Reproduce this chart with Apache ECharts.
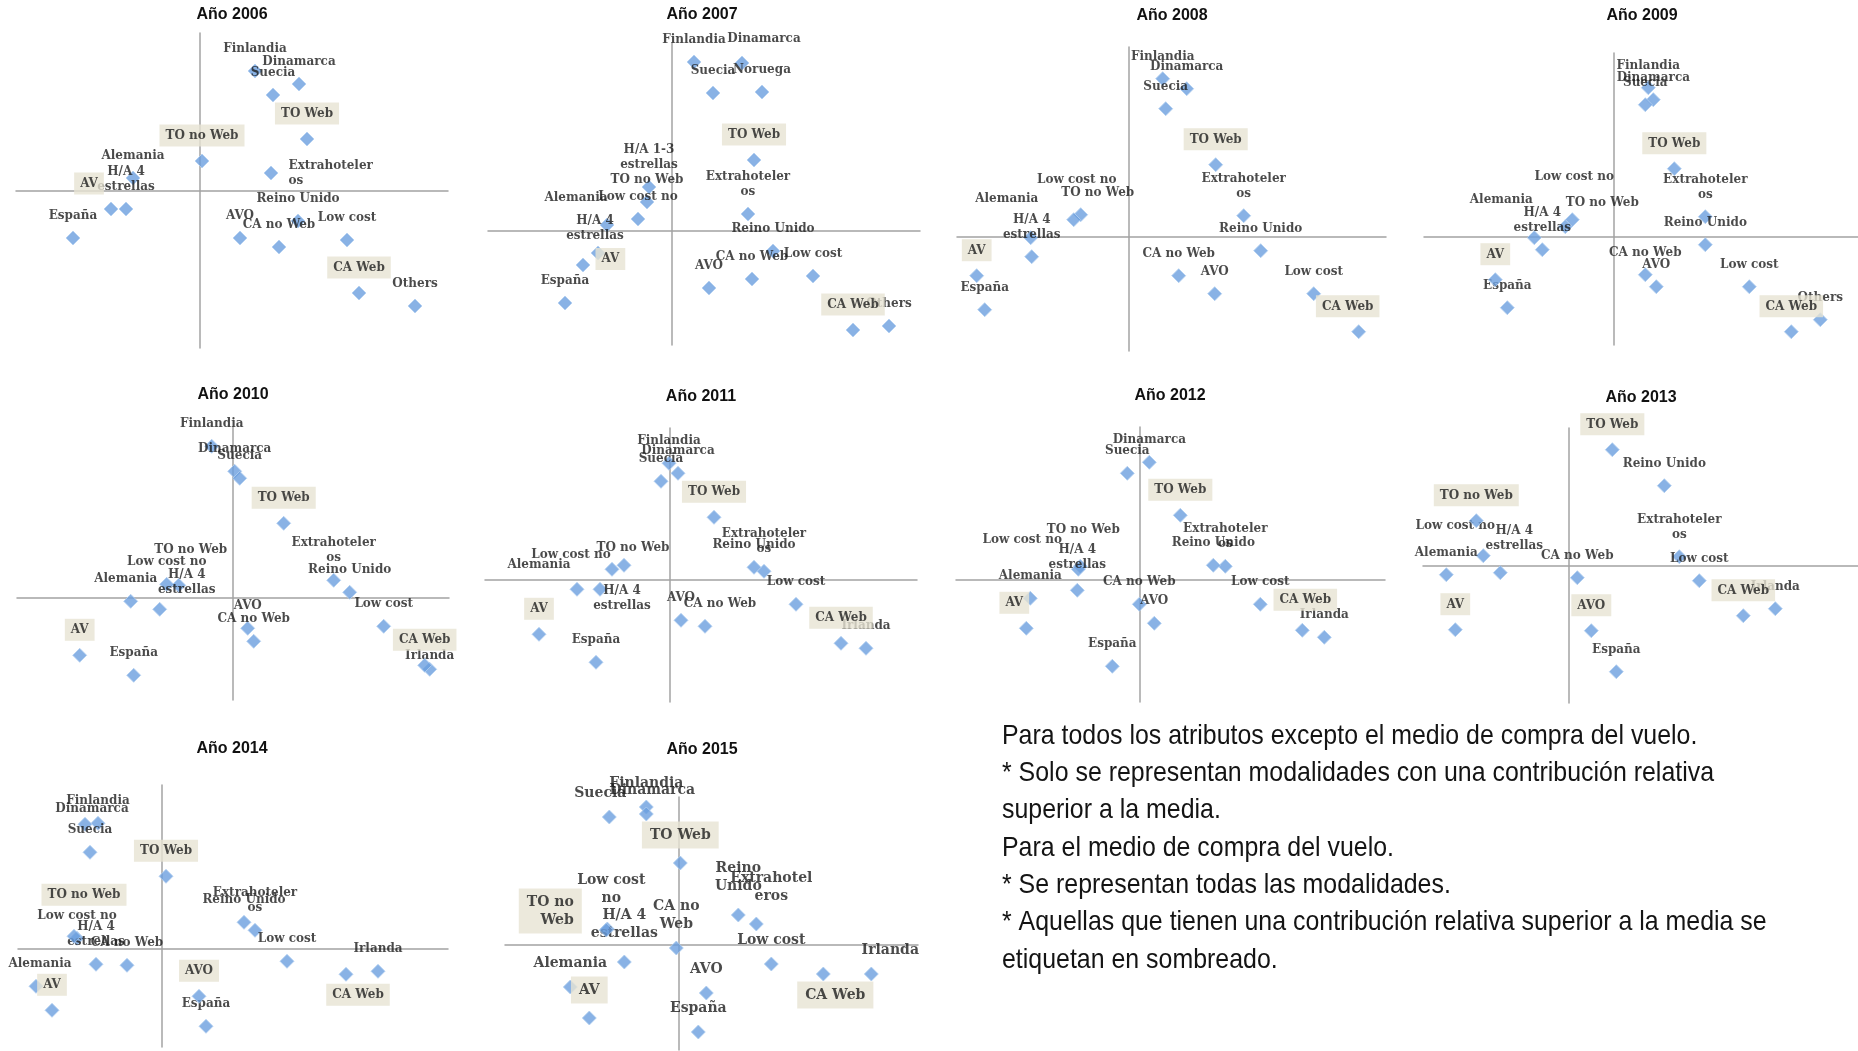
<!DOCTYPE html>
<html>
<head>
<meta charset="utf-8">
<title>Análisis de correspondencias 2006-2015</title>
<script src="https://cdn.jsdelivr.net/npm/echarts/dist/echarts.min.js"></script>
<style>
  html, body { margin: 0; padding: 0; background: #ffffff; }
  #chart { width: 1858px; height: 1051px; }
</style>
</head>
<body>
<div id="chart"></div>
<script>
// Years shown, one factorial map per year
const years = [2006, 2007, 2008, 2009, 2010, 2011, 2012, 2013, 2014, 2015];

// Coordinates of each modality on dimension 1 (horizontal) and dimension 2 (vertical)
const cats2006 = ['Finlandia', 'Dinamarca', 'Suecia', 'TO Web', 'TO no Web', 'Alemania', 'H/A 4 estrellas', 'AV', 'España', 'Extrahoteleros', 'Reino Unido', 'AVO', 'CA no Web', 'Low cost', 'CA Web', 'Others'];
const dim1_2006 = [0.55, 0.99, 0.73, 1.07, 0.02, -0.67, -0.74, -0.89, -1.27, 0.71, 0.98, 0.40, 0.79, 1.47, 1.59, 2.15];
const dim2_2006 = [1.20, 1.07, 0.96, 0.52, 0.30, 0.13, -0.18, -0.18, -0.47, 0.18, -0.30, -0.47, -0.56, -0.49, -1.02, -1.15];
const shaded2006 = ['TO Web', 'TO no Web', 'AV', 'CA Web'];

const cats2007 = ['Finlandia', 'Dinamarca', 'Suecia', 'Noruega', 'TO Web', 'Extrahoteleros', 'H/A 1-3 estrellas', 'TO no Web', 'Low cost no', 'Alemania', 'H/A 4 estrellas', 'AV', 'España', 'Reino Unido', 'CA no Web', 'AVO', 'Low cost', 'CA Web', 'Others'];
const dim1_2007 = [0.22, 0.70, 0.41, 0.90, 0.82, 0.76, -0.23, -0.25, -0.34, -0.65, -0.74, -0.89, -1.07, 1.01, 0.80, 0.37, 1.41, 1.81, 2.17];
const dim2_2007 = [1.69, 1.68, 1.38, 1.39, 0.71, 0.17, 0.44, 0.29, 0.12, 0.06, -0.22, -0.34, -0.72, -0.20, -0.48, -0.57, -0.45, -0.99, -0.95];
const shaded2007 = ['TO Web', 'AV', 'CA Web'];

const cats2008 = ['Finlandia', 'Dinamarca', 'Suecia', 'TO Web', 'Extrahoteleros', 'Reino Unido', 'TO no Web', 'Low cost no', 'Alemania', 'H/A 4 estrellas', 'AV', 'España', 'CA no Web', 'AVO', 'Low cost', 'CA Web'];
const dim1_2008 = [0.34, 0.58, 0.37, 0.87, 1.15, 1.32, -0.48, -0.55, -0.98, -0.97, -1.52, -1.44, 0.50, 0.86, 1.85, 2.30];
const dim2_2008 = [1.58, 1.48, 1.28, 0.72, 0.21, -0.14, 0.22, 0.17, -0.01, -0.20, -0.39, -0.73, -0.39, -0.57, -0.57, -0.95];
const shaded2008 = ['TO Web', 'AV', 'CA Web'];

const cats2009 = ['Finlandia', 'Dinamarca', 'Suecia', 'TO Web', 'Extrahoteleros', 'Reino Unido', 'TO no Web', 'Low cost no', 'Alemania', 'H/A 4 estrellas', 'AV', 'España', 'CA no Web', 'AVO', 'Low cost', 'CA Web', 'Others'];
const dim1_2009 = [0.35, 0.40, 0.32, 0.61, 0.92, 0.92, -0.41, -0.48, -0.79, -0.71, -1.18, -1.06, 0.32, 0.43, 1.36, 1.78, 2.07];
const dim2_2009 = [1.49, 1.37, 1.32, 0.68, 0.20, -0.08, 0.17, 0.10, -0.01, -0.13, -0.43, -0.71, -0.38, -0.50, -0.50, -0.95, -0.83];
const shaded2009 = ['TO Web', 'AV', 'CA Web'];

const cats2010 = ['Finlandia', 'Dinamarca', 'Suecia', 'TO Web', 'Extrahoteleros', 'Reino Unido', 'Low cost', 'CA Web', 'Irlanda', 'TO no Web', 'Low cost no', 'Alemania', 'H/A 4 estrellas', 'AV', 'España', 'AVO', 'CA no Web'];
const dim1_2010 = [-0.21, 0.02, 0.07, 0.51, 1.01, 1.17, 1.51, 1.92, 1.97, -0.54, -0.66, -1.02, -0.73, -1.53, -0.99, 0.15, 0.21];
const dim2_2010 = [1.51, 1.26, 1.19, 0.74, 0.17, 0.05, -0.29, -0.68, -0.72, 0.12, 0.13, -0.04, -0.12, -0.58, -0.78, -0.31, -0.44];
const shaded2010 = ['TO Web', 'AV', 'CA Web'];

const cats2011 = ['Finlandia', 'Dinamarca', 'Suecia', 'TO Web', 'Extrahoteleros', 'Reino Unido', 'Low cost', 'CA Web', 'Irlanda', 'TO no Web', 'Low cost no', 'Alemania', 'H/A 4 estrellas', 'AV', 'España', 'AVO', 'CA no Web'];
const dim1_2011 = [-0.01, 0.08, -0.09, 0.44, 0.94, 0.84, 1.26, 1.71, 1.96, -0.46, -0.58, -0.93, -0.70, -1.31, -0.74, 0.11, 0.35];
const dim2_2011 = [1.16, 1.06, 0.98, 0.62, 0.08, 0.12, -0.25, -0.64, -0.69, 0.14, 0.10, -0.10, -0.10, -0.55, -0.83, -0.41, -0.47];
const shaded2011 = ['TO Web', 'AV', 'CA Web'];

const cats2012 = ['Dinamarca', 'Suecia', 'TO Web', 'Extrahoteleros', 'Reino Unido', 'Low cost', 'CA Web', 'Irlanda', 'TO no Web', 'Low cost no', 'H/A 4 estrellas', 'Alemania', 'AV', 'CA no Web', 'AVO', 'España'];
const dim1_2012 = [0.10, -0.12, 0.41, 0.86, 0.74, 1.21, 1.63, 1.85, -0.59, -0.61, -0.62, -1.09, -1.13, 0.00, 0.15, -0.27];
const dim2_2012 = [1.17, 1.06, 0.64, 0.13, 0.14, -0.25, -0.51, -0.58, 0.13, 0.10, -0.11, -0.19, -0.49, -0.25, -0.44, -0.87];
const shaded2012 = ['TO Web', 'AV', 'CA Web'];

const cats2013 = ['TO Web', 'Reino Unido', 'TO no Web', 'Extrahoteleros', 'Low cost', 'CA Web', 'Irlanda', 'Low cost no', 'Alemania', 'H/A 4 estrellas', 'CA no Web', 'AV', 'AVO', 'España'];
const dim1_2013 = [0.44, 0.96, -0.92, 1.11, 1.31, 1.75, 2.07, -0.85, -1.22, -0.68, 0.09, -1.13, 0.23, 0.48];
const dim2_2013 = [1.16, 0.80, 0.45, 0.09, -0.15, -0.50, -0.43, 0.10, -0.09, -0.07, -0.12, -0.64, -0.65, -1.06];
const shaded2013 = ['TO Web', 'TO no Web', 'CA Web', 'AV', 'AVO'];

const cats2014 = ['Finlandia', 'Dinamarca', 'Suecia', 'TO Web', 'TO no Web', 'Low cost no', 'H/A 4 estrellas', 'CA no Web', 'Alemania', 'AV', 'Extrahoteleros', 'Reino Unido', 'Low cost', 'Irlanda', 'CA Web', 'AVO', 'España'];
const dim1_2014 = [-0.64, -0.77, -0.72, 0.04, -0.88, -0.85, -0.66, -0.35, -1.26, -1.10, 0.93, 0.82, 1.25, 2.16, 1.84, 0.37, 0.44];
const dim2_2014 = [1.25, 1.24, 0.96, 0.72, 0.12, 0.10, -0.16, -0.17, -0.38, -0.62, 0.18, 0.26, -0.13, -0.23, -0.26, -0.48, -0.78];
const shaded2014 = ['TO Web', 'TO no Web', 'AV', 'CA Web', 'AVO'];

const cats2015 = ['Finlandia', 'Dinamarca', 'Suecia', 'TO Web', 'Reino Unido', 'Extrahoteleros', 'Low cost no', 'TO no Web', 'H/A 4 estrellas', 'Alemania', 'AV', 'CA no Web', 'AVO', 'España', 'Low cost', 'Irlanda', 'CA Web'];
const dim1_2015 = [-0.32, -0.32, -0.69, 0.02, 0.60, 0.78, -0.71, -0.72, -0.54, -1.08, -0.89, -0.02, 0.28, 0.20, 0.93, 1.93, 1.45];
const dim2_2015 = [1.38, 1.31, 1.28, 0.82, 0.30, 0.21, 0.16, 0.15, -0.17, -0.42, -0.73, -0.03, -0.48, -0.87, -0.19, -0.29, -0.29];
const shaded2015 = ['TO Web', 'TO no Web', 'AV', 'CA Web'];

// Explanatory note printed next to the maps
const notes = [
  'Para todos los atributos excepto el medio de compra del vuelo.',
  '* Solo se representan modalidades con una contribución relativa',
  'superior a la media.',
  'Para el medio de compra del vuelo.',
  '* Se representan todas las modalidades.',
  '* Aquellas que tienen una contribución relativa superior a la media se',
  'etiquetan en sombreado.'
];

const byYear = {
  2006: { cats: cats2006, d1: dim1_2006, d2: dim2_2006, shaded: shaded2006 },
  2007: { cats: cats2007, d1: dim1_2007, d2: dim2_2007, shaded: shaded2007 },
  2008: { cats: cats2008, d1: dim1_2008, d2: dim2_2008, shaded: shaded2008 },
  2009: { cats: cats2009, d1: dim1_2009, d2: dim2_2009, shaded: shaded2009 },
  2010: { cats: cats2010, d1: dim1_2010, d2: dim2_2010, shaded: shaded2010 },
  2011: { cats: cats2011, d1: dim1_2011, d2: dim2_2011, shaded: shaded2011 },
  2012: { cats: cats2012, d1: dim1_2012, d2: dim2_2012, shaded: shaded2012 },
  2013: { cats: cats2013, d1: dim1_2013, d2: dim2_2013, shaded: shaded2013 },
  2014: { cats: cats2014, d1: dim1_2014, d2: dim2_2014, shaded: shaded2014 },
  2015: { cats: cats2015, d1: dim1_2015, d2: dim2_2015, shaded: shaded2015 }
};

// ---- Layout ----
// Pixels per unit of each dimension
const UNIT_PX = 100;
// Extent of the two axis lines of every map, and where they cross
const panels = {
  2006: { x0: 16,   x1: 448,  y0: 33,  y1: 348,  cx: 200,    cy: 191 },
  2007: { x0: 488,  x1: 920,  y0: 43,  y1: 345,  cx: 672,    cy: 231 },
  2008: { x0: 957,  x1: 1386, y0: 47,  y1: 351,  cx: 1128.7, cy: 236.7 },
  2009: { x0: 1424, x1: 1858, y0: 53,  y1: 345,  cx: 1613.3, cy: 236.7 },
  2010: { x0: 17,   x1: 449,  y0: 427, y1: 700,  cx: 232.7,  cy: 597.3 },
  2011: { x0: 485,  x1: 917,  y0: 428, y1: 702,  cx: 670,    cy: 579.3 },
  2012: { x0: 956,  x1: 1385, y0: 427, y1: 702,  cx: 1139.3, cy: 579.3 },
  2013: { x0: 1423, x1: 1858, y0: 428, y1: 703,  cx: 1568.3, cy: 565.7 },
  2014: { x0: 18,   x1: 448,  y0: 785, y1: 1047, cx: 162,    cy: 948.3 },
  2015: { x0: 505,  x1: 918,  y0: 797, y1: 1050, cx: 678.3,  cy: 945 }
};
const titleAt = {
  2006: [232, 15], 2007: [702, 15], 2008: [1172, 16], 2009: [1642, 16],
  2010: [233, 395], 2011: [701, 397], 2012: [1170, 396], 2013: [1641, 398],
  2014: [232, 749], 2015: [702, 750]
};

// Label line breaks as printed
const wrapDefault = {
  'Extrahoteleros': 'Extrahoteler\nos',
  'H/A 4 estrellas': 'H/A 4\nestrellas',
  'H/A 1-3 estrellas': 'H/A 1-3\nestrellas'
};
const wrap2015 = {
  'Extrahoteleros': 'Extrahotel\neros',
  'Reino Unido': 'Reino\nUnido',
  'Low cost no': 'Low cost\nno',
  'TO no Web': 'TO no\nWeb',
  'CA no Web': 'CA no\nWeb',
  'H/A 4 estrellas': 'H/A 4\nestrellas'
};

// Labels that were moved away from the default spot above the marker
const labelTweaks = {
  2006: { 'AV': { offset: [-22, 0] }, 'Extrahoteleros': { position: 'right', distance: 10 } },
  2007: { 'Dinamarca': { offset: [22, -2] }, 'Alemania': { offset: [-31, -5] }, 'H/A 4 estrellas': { offset: [-3, 5] },
          'AV': { position: 'right', distance: 5, offset: [0, -6] } },
  2008: { 'TO no Web': { offset: [17, 0] }, 'Low cost no': { offset: [3, -18] }, 'Alemania': { offset: [-24, -17] },
          'CA Web': { offset: [-11, 0] } },
  2009: { 'Alemania': { offset: [-33, -16] }, 'TO no Web': { offset: [30, 5] }, 'Low cost no': { offset: [9, -28] } },
  2010: { 'Irlanda': { offset: [0, 9] }, 'TO no Web': { offset: [12, -13] }, 'H/A 4 estrellas': { offset: [27, 3] },
          'Alemania': { offset: [-5, 0] } },
  2011: { 'CA no Web': { offset: [15, 0] }, 'TO no Web': { offset: [9, 5] }, 'Low cost no': { offset: [-41, 8] },
          'Alemania': { offset: [-38, -2] }, 'H/A 4 estrellas': { offset: [22, 39] } },
  2012: { 'CA Web': { offset: [3, -5] }, 'TO no Web': { offset: [3, -14] }, 'Low cost no': { offset: [-56, -7] },
          'H/A 4 estrellas': { offset: [0, -3] }, 'AV': { offset: [-12, 0] } },
  2013: { 'Low cost no': { offset: [-28, -8] }, 'H/A 4 estrellas': { offset: [14, -5] } },
  2014: { 'Dinamarca': { offset: [7, 7] }, 'TO no Web': { offset: [10, -16] }, 'Alemania': { offset: [4, 0] },
          'CA Web': { position: 'bottom', offset: [12, -5] } },
  2015: { 'Dinamarca': { offset: [6, 0] }, 'Suecia': { offset: [-9, 0] }, 'Reino Unido': { offset: [0, -5] },
          'Extrahoteleros': { offset: [15, -4] }, 'Low cost no': { offset: [4, -7] },
          'TO no Web': { position: 'left', distance: 17, offset: [0, -19] }, 'H/A 4 estrellas': { offset: [0, -5] },
          'Irlanda': { offset: [19, 0] }, 'CA Web': { position: 'bottom', offset: [12, -7] } }
};

const SHADE = '#e7e3d3';
const AXIS_COLOR = '#a3a3a3';
const MARK_FILL = '#6b9fde';
const MARK_EDGE = '#b3cff0';

const grids = [], xAxes = [], yAxes = [], series = [], graphics = [];

years.forEach((yr, i) => {
  const d = byYear[yr];
  const p = panels[yr];
  const big = yr === 2015;
  const wrap = big ? wrap2015 : wrapDefault;
  const tweaks = labelTweaks[yr] || {};

  grids.push({ left: p.x0, top: p.y0, width: p.x1 - p.x0, height: p.y1 - p.y0 });

  const axisCommon = {
    type: 'value', gridIndex: i,
    axisLine: { show: true, onZero: true, lineStyle: { color: AXIS_COLOR, width: 1.5 } },
    axisTick: { show: false }, axisLabel: { show: false }, splitLine: { show: false }
  };
  xAxes.push(Object.assign({}, axisCommon, { min: (p.x0 - p.cx) / UNIT_PX, max: (p.x1 - p.cx) / UNIT_PX }));
  yAxes.push(Object.assign({}, axisCommon, { min: (p.cy - p.y1) / UNIT_PX, max: (p.cy - p.y0) / UNIT_PX }));

  const items = shadedWanted => d.cats
    .map((name, k) => {
      const item = { name: name, value: [d.d1[k], d.d2[k]] };
      if (tweaks[name]) item.label = tweaks[name];
      return item;
    })
    .filter(it => (d.shaded.indexOf(it.name) >= 0) === shadedWanted);

  const baseLabel = {
    show: true, position: 'top', distance: 7,
    formatter: prm => wrap[prm.name] || prm.name,
    fontFamily: 'DejaVu Serif', fontWeight: 'bold',
    fontSize: big ? 14 : 12, lineHeight: big ? 18 : 15,
    color: '#1d1d1d'
  };

  const common = {
    type: 'scatter', xAxisIndex: i, yAxisIndex: i,
    symbol: 'diamond', symbolSize: 14, silent: true,
    itemStyle: { color: MARK_FILL, borderColor: MARK_EDGE, borderWidth: 1 },
    emphasis: { disabled: true }
  };

  series.push(Object.assign({}, common, {
    name: 'Año ' + yr, z: 2, data: items(false), label: baseLabel
  }));
  series.push(Object.assign({}, common, {
    name: 'Año ' + yr + ' (sombreado)', z: 3, data: items(true),
    label: Object.assign({}, baseLabel, {
      backgroundColor: SHADE,
      padding: big ? [5, 8, 4, 8] : [4, 6, 3, 6]
    })
  }));

  const t = titleAt[yr];
  graphics.push({
    type: 'text', x: t[0], y: t[1], silent: true,
    style: {
      text: 'Año ' + yr, font: 'bold 16px "Liberation Sans", Arial, sans-serif', fill: '#111111',
      align: 'center', verticalAlign: 'middle', textAlign: 'center', textVerticalAlign: 'middle'
    }
  });
});

// Note block, set in a narrow face
const NOTE_X = 1002, NOTE_Y0 = 736, NOTE_STEP = 37.3;
notes.forEach((line, k) => {
  graphics.push({
    type: 'text', x: NOTE_X, y: NOTE_Y0 + k * NOTE_STEP, scaleX: 0.89, silent: true,
    style: {
      text: line, font: '28px "Liberation Sans", Arial, sans-serif', fill: '#141414',
      align: 'left', verticalAlign: 'middle', textAlign: 'left', textVerticalAlign: 'middle'
    }
  });
});

const chart = echarts.init(document.getElementById('chart'), null, { renderer: 'canvas' });
chart.setOption({
  backgroundColor: '#ffffff',
  animation: false,
  grid: grids,
  xAxis: xAxes,
  yAxis: yAxes,
  series: series,
  graphic: { elements: graphics }
});
</script>
</body>
</html>
